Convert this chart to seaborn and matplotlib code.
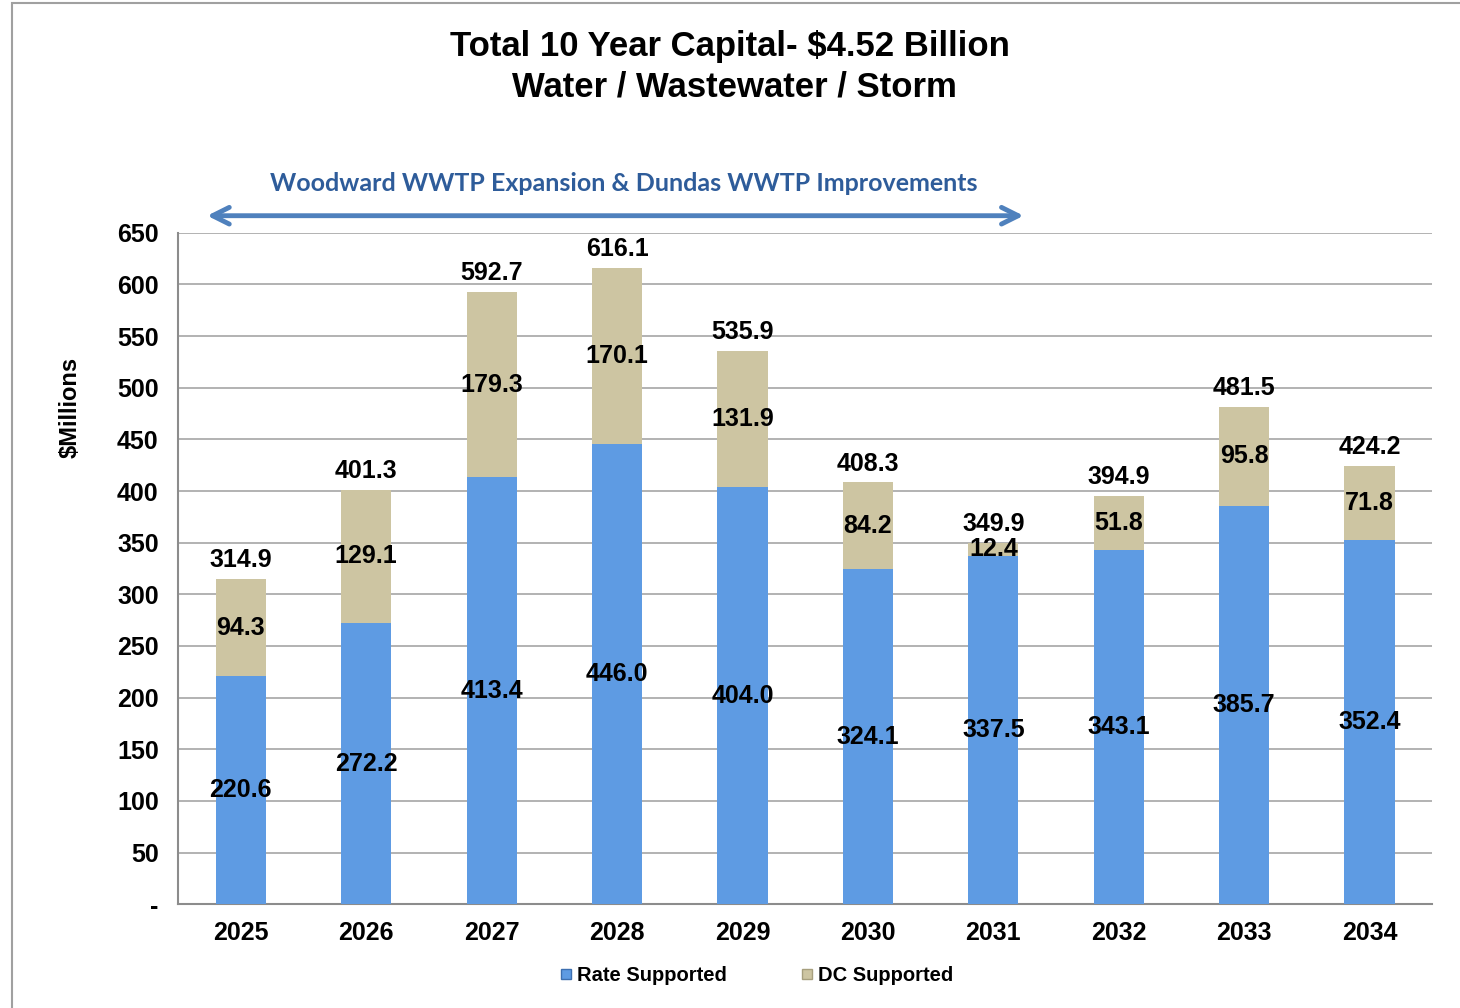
import pandas as pd
import matplotlib.pyplot as plt
import seaborn as sns
from matplotlib.patches import Rectangle, FancyArrowPatch
from matplotlib.lines import Line2D

# values ($ millions)
years = ['2025', '2026', '2027', '2028', '2029', '2030', '2031', '2032', '2033', '2034']
rate_supported = [220.6, 272.2, 413.4, 446.0, 404.0, 324.1, 337.5, 343.1, 385.7, 352.4]
dc_supported = [94.3, 129.1, 179.3, 170.1, 131.9, 84.2, 12.4, 51.8, 95.8, 71.8]
totals = [314.9, 401.3, 592.7, 616.1, 535.9, 408.3, 349.9, 394.9, 481.5, 424.2]
y_ticks = list(range(0, 651, 50))
y_ticklabels = ['-'] + [str(v) for v in y_ticks[1:]]

df = pd.DataFrame({'Year': years, 'Rate': rate_supported, 'DC': dc_supported, 'Total': totals})

blue = '#5E9BE3'
tan = '#CDC5A2'

sns.set_style('white')
plt.rcParams['font.family'] = ['Liberation Sans', 'DejaVu Sans']
plt.rcParams['text.color'] = 'black'
plt.rcParams['xtick.color'] = 'black'
plt.rcParams['ytick.color'] = 'black'
plt.rcParams['axes.labelcolor'] = 'black'

fig = plt.figure(figsize=(14.6, 10.08), dpi=100)
ax = fig.add_axes([0.122, 0.103, 0.859, 0.666])

# stacked: draw totals in tan, rate portion in blue over it
sns.barplot(data=df, x='Year', y='Total', color=tan, width=0.4, saturation=1,
            edgecolor='none', ax=ax, zorder=3)
sns.barplot(data=df, x='Year', y='Rate', color=blue, width=0.4, saturation=1,
            edgecolor='none', ax=ax, zorder=3)

ax.set_ylim(0, 650)
ax.set_xlim(-0.5, 9.5)
ax.set_yticks(y_ticks)
ax.set_yticklabels(y_ticklabels, fontsize=18, fontweight='bold')
ax.grid(axis='y', color='#A6A6A6', linewidth=1.2, zorder=0)
ax.set_axisbelow(True)

for s in ['top', 'right']:
    ax.spines[s].set_visible(False)
for s in ['left', 'bottom']:
    ax.spines[s].set_color('#8C8C8C')
    ax.spines[s].set_linewidth(1.5)

# x ticks between categories, labels centred under bars
ax.set_xticks([i - 0.5 for i in range(11)], minor=False)
ax.set_xticklabels([])
ax.set_xticks(range(10), minor=True)
ax.set_xticklabels(years, minor=True, fontsize=18, fontweight='bold')
ax.tick_params(axis='x', which='major', direction='out', length=6, color='#8C8C8C', width=1.5)
ax.tick_params(axis='x', which='minor', length=0, pad=12)
ax.tick_params(axis='y', direction='out', length=6, color='#8C8C8C', width=1.5, pad=8)
ax.set_xlabel('')
ax.set_ylabel('$Millions', fontsize=17, fontweight='bold')
ax.yaxis.set_label_coords(-0.077, 0.74)

for i in range(len(years)):
    ax.text(i, rate_supported[i] / 2, f'{rate_supported[i]:.1f}', ha='center', va='center',
            fontsize=18, fontweight='bold', zorder=5)
    ax.text(i, rate_supported[i] + dc_supported[i] / 2, f'{dc_supported[i]:.1f}', ha='center',
            va='center', fontsize=18, fontweight='bold', zorder=5)
    ax.annotate(f'{totals[i]:.1f}', (i, totals[i]), xytext=(0, 5), textcoords='offset points',
                ha='center', va='bottom', fontsize=18, fontweight='bold')

# title
fig.text(0.5, 0.954, 'Total 10 Year Capital- $4.52 Billion', ha='center', va='center',
         fontsize=25, fontweight='bold')
fig.text(0.503, 0.914, 'Water / Wastewater / Storm', ha='center', va='center',
         fontsize=25, fontweight='bold')

# project span annotation
fig.text(0.427, 0.818, 'Woodward WWTP Expansion & Dundas WWTP Improvements', ha='center',
         va='center', fontsize=18, fontweight='bold', color='#2E5C9A',
         family=['Lato', 'DejaVu Sans'])
fig.add_artist(FancyArrowPatch(
    (0.140, 0.786), (0.703, 0.786), transform=fig.transFigure, arrowstyle='<->',
    mutation_scale=30, color='#4F81BD', linewidth=3.5))

# legend
handles = [Line2D([], [], marker='s', linestyle='none', markersize=7, markerfacecolor=blue,
                  markeredgecolor='#3D6FB0'),
           Line2D([], [], marker='s', linestyle='none', markersize=7, markerfacecolor=tan,
                  markeredgecolor='#A79F7E')]
fig.legend(handles, ['Rate Supported', 'DC Supported'], loc='center', bbox_to_anchor=(0.518, 0.032),
           ncol=2, frameon=False, handlelength=0.7, handletextpad=0.2, columnspacing=3.6,
           prop={'size': 14.5, 'weight': 'bold'})

# slide frame
fig.add_artist(Rectangle((0.008, -0.01), 1.2, 1.007, transform=fig.transFigure, fill=False,
                         edgecolor='#A0A0A0', linewidth=1.5))

fig.savefig('out.png', dpi=100)
